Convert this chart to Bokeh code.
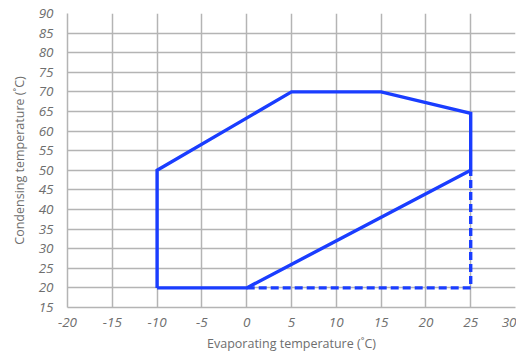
from bokeh.plotting import figure
from bokeh.embed import file_html
from bokeh.resources import INLINE
from bokeh.models import FixedTicker, Range1d

# envelope data
solid_x = [-10, -10, 5, 15, 25, 25, 0, -10]
solid_y = [20, 50, 70, 70, 64.5, 50, 20, 20]
dash_x = [0, 25, 25]
dash_y = [20, 20, 50]
x_ticks = [-20, -15, -10, -5, 0, 5, 10, 15, 20, 25, 30]
x_labels = ["-20", "-15", "-10", "-5", "0", "5", "10", "15", "20", "25", "30"]
y_ticks = [15, 20, 25, 30, 35, 40, 45, 50, 55, 60, 65, 70, 75, 80, 85, 90]

LINE = "#1a3dff"
GRID = "#b4b4b4"
TXT = "#6e6e6e"

p = figure(width=516, height=354, output_backend="svg", toolbar_location=None,
           x_range=Range1d(-20, 30), y_range=Range1d(15, 90),
           min_border_left=67, min_border_right=1, min_border_top=13, min_border_bottom=40)
p.outline_line_color = None

p.line(solid_x, solid_y, line_color=LINE, line_width=3.4, line_join="miter")
p.line(dash_x, dash_y, line_color=LINE, line_width=3.4, line_dash="8 4")

p.xaxis.ticker = FixedTicker(ticks=x_ticks)
p.xaxis.major_label_overrides = {t: s for t, s in zip(x_ticks, x_labels)}
p.yaxis.ticker = FixedTicker(ticks=y_ticks)
for ax in (p.xaxis[0], p.yaxis[0]):
    ax.axis_line_color = GRID
    ax.axis_line_width = 1.5
    ax.major_tick_line_color = None
    ax.minor_tick_line_color = None
    ax.major_label_text_font = "Open Sans"
    ax.major_label_text_font_style = "italic"
    ax.major_label_text_font_size = "13.5px"
    ax.major_label_text_color = TXT
    ax.axis_label_text_font = "Open Sans"
    ax.axis_label_text_font_style = "normal"
    ax.axis_label_text_font_size = "12.5px"
    ax.axis_label_text_color = TXT
p.xaxis.axis_label = "Evaporating temperature (˚C)"
p.yaxis.axis_label = "Condensing temperature (˚C)"
p.xaxis.major_label_standoff = 4
p.yaxis.major_label_standoff = 8
p.xaxis.axis_label_standoff = 5
p.yaxis.axis_label_standoff = 8

p.xgrid.ticker = FixedTicker(ticks=x_ticks)
p.ygrid.ticker = FixedTicker(ticks=y_ticks)
for g in (p.xgrid[0], p.ygrid[0]):
    g.grid_line_color = GRID
    g.grid_line_width = 1.5
    g.grid_line_alpha = 1.0

open("out.html", "w").write(file_html(p, INLINE))
